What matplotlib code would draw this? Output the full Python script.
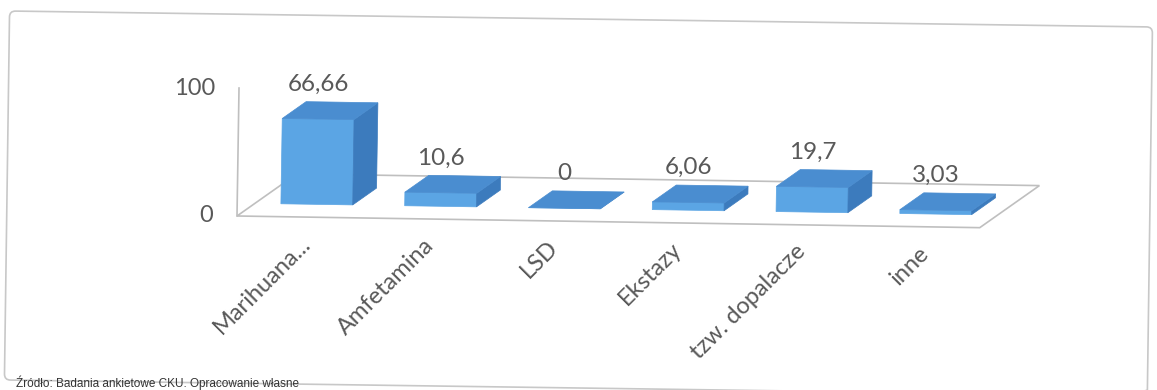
import matplotlib.pyplot as plt
from matplotlib.patches import Polygon, FancyBboxPatch
from matplotlib.transforms import Affine2D, IdentityTransform

categories = ["Marihuana...", "Amfetamina", "LSD", "Ekstazy", "tzw. dopalacze", "inne"]
values = [66.66, 10.6, 0, 6.06, 19.7, 3.03]
value_labels = ["66,66", "10,6", "0", "6,06", "19,7", "3,03"]
y_ticks = [0, 100]
source = "Źródło: Badania ankietowe CKU. Opracowanie własne"

W, H = 1157, 390
fig = plt.figure(figsize=(W / 100, H / 100), dpi=100)
fig.patch.set_facecolor("white")

# plot area: x = category slot, y = value
ax = fig.add_axes([237 / W, (H - 235.2) / H, 829.5 / W, 160 / H])
ax.set_xlim(-0.5, 6.2)
ax.set_ylim(-15, 110)
ax.axis("off")

FONT = "Lato"
GREY = "#595959"
EDGE = "#bfbfbf"
FRONT, TOP, SIDE = "#5ba5e4", "#4a8dd0", "#3c7bbd"

# fake 3d: depth d in [0, 1] shifts points back/up
DX, DY = 59 / 123.8, 43 / 1.28
tilt = Affine2D().rotate_deg_around(237, H - 216, -0.9)   # scan is a bit crooked
tr = ax.transData + tilt


def P(x, v, d):
    return (x + d * DX, v + d * DY)


n = len(categories)
# floor
floor = [P(-0.5, 0, 0), P(n - 0.5, 0, 0), P(n - 0.5, 0, 1), P(-0.5, 0, 1)]
ax.add_patch(Polygon(floor, closed=True, facecolor="white", edgecolor=EDGE,
                     lw=1.2, transform=tr, clip_on=False))
# value axis line
ax.plot([-0.5, -0.5], [0, y_ticks[-1]], color=EDGE, lw=1.2, transform=tr, clip_on=False)

w = 0.29
d0, d1 = 0.3, 0.7
for i, v in enumerate(values):
    front = [P(i - w, 0, d0), P(i + w, 0, d0), P(i + w, v, d0), P(i - w, v, d0)]
    top = [P(i - w, v, d0), P(i + w, v, d0), P(i + w, v, d1), P(i - w, v, d1)]
    side = [P(i + w, 0, d0), P(i + w, 0, d1), P(i + w, v, d1), P(i + w, v, d0)]
    for poly, c in [(front, FRONT), (side, SIDE), (top, TOP)]:
        ax.add_patch(Polygon(poly, closed=True, facecolor=c, edgecolor=c, lw=0.5,
                             transform=tr, clip_on=False))
    ax.annotate(value_labels[i], xy=P(i, v + (d1 - d0) * DY, d0), xycoords=tr,
                xytext=(0, 11), textcoords="offset pixels", ha="center", va="baseline",
                fontsize=17.5, color=GREY, family=FONT, annotation_clip=False)
    ax.annotate(categories[i], xy=P(i, 0, 0), xycoords=tr,
                xytext=(8, -23), textcoords="offset pixels", ha="right", va="center",
                rotation=45, rotation_mode="anchor", fontsize=17, color=GREY,
                family=FONT, annotation_clip=False)

for t in y_ticks:
    ax.annotate(str(t), xy=P(-0.5, t, 0), xycoords=tr, xytext=(-24, 0),
                textcoords="offset pixels", ha="right", va="center",
                fontsize=17, color=GREY, family=FONT, annotation_clip=False)

# chart frame
frame = FancyBboxPatch((7, 10), 1143, 369, boxstyle="round,pad=0,rounding_size=6",
                       facecolor="none", edgecolor="#c8c8c8", lw=1.2,
                       transform=IdentityTransform() + Affine2D().rotate_deg_around(7, 195, -0.8))
fig.patches.append(frame)

fig.text(16 / W, (H - 387) / H, source, ha="left", va="baseline", fontsize=8.5,
         family="Liberation Sans", color="#333333")

fig.savefig("out.png", dpi=100)
